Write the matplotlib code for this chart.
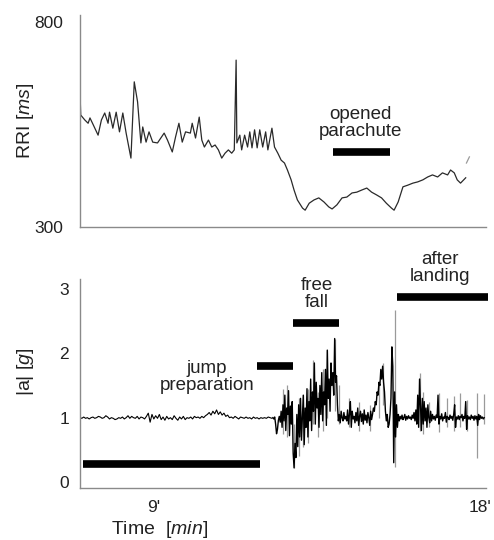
import numpy as np
import matplotlib
matplotlib.use("Agg")
import matplotlib.pyplot as plt
import matplotlib.transforms as mtransforms

plt.rcParams['font.family'] = ['Liberation Sans', 'DejaVu Sans']
plt.rcParams['mathtext.fontset'] = 'custom'
plt.rcParams['mathtext.rm'] = 'Liberation Sans'
plt.rcParams['mathtext.it'] = 'Liberation Sans:italic'

# ---------------- data ----------------
rri_t = [7.00, 7.02, 7.13, 7.22, 7.27, 7.36, 7.49, 7.58, 7.67, 7.76, 7.80, 7.89, 7.98, 8.07, 8.16, 8.25,
         8.38, 8.47, 8.56, 8.65, 8.70, 8.79, 8.87, 8.97, 9.10, 9.28, 9.37, 9.50, 9.59, 9.68, 9.77, 9.86,
         9.99, 10.04, 10.13, 10.23, 10.30, 10.37, 10.48, 10.57, 10.66, 10.75, 10.84, 10.93, 11.02, 11.11,
         11.18, 11.23, 11.25, 11.33, 11.38, 11.46, 11.54, 11.60, 11.66, 11.73, 11.80, 11.87, 11.95, 12.03,
         12.09, 12.20, 12.27, 12.36, 12.45, 12.54, 12.62, 12.72, 12.80, 12.89, 13.03, 13.10, 13.21, 13.34,
         13.47, 13.61, 13.74, 13.83, 13.96, 14.10, 14.23, 14.37, 14.50, 14.63, 14.77, 14.90, 15.04, 15.17,
         15.30, 15.44, 15.51, 15.62, 15.75, 15.88, 16.02, 16.15, 16.29, 16.42, 16.55, 16.69, 16.82, 16.96,
         17.04, 17.14, 17.22, 17.31, 17.45]
rri_v = [627, 573, 561, 553, 566, 549, 524, 561, 578, 553, 580, 541, 580, 532, 578, 529,
         468, 654, 605, 505, 544, 507, 532, 507, 505, 529, 512, 483, 520, 553, 507, 532,
         529, 553, 517, 568, 512, 495, 512, 495, 500, 488, 468, 480, 488, 480,
         488, 707, 505, 524, 488, 524, 495, 532, 493, 537, 493, 537, 495, 532,
         488, 541, 495, 480, 463, 456, 439, 415, 390, 366, 346, 341, 358, 366,
         371, 361, 349, 344, 354, 371, 373, 383, 385, 390, 395, 385, 378, 371,
         358, 346, 341, 361, 398, 402, 407, 410, 415, 422, 427, 422, 432, 427,
         439, 432, 415, 407, 420]
rri_tail_t = [17.47, 17.55]
rri_tail_v = [456, 471]

# |a| sampled signal: calm part (step 0.05 min) and active part (step 0.025 min)
acc_calm_start, acc_calm_step = 7.00, 0.05
acc_calm = [1.00, 0.99, 1.01, 0.99, 1.00, 0.98, 1.00, 1.01, 0.99, 1.00,
            1.02, 1.01, 0.99, 1.00, 1.03, 1.01, 0.98, 1.00, 0.99, 0.97,
            0.98, 1.00, 0.99, 1.01, 0.98, 1.00, 1.03, 0.99, 1.02, 1.00,
            0.99, 1.02, 0.98, 1.01, 1.00, 0.98, 1.02, 1.07, 0.93, 1.05,
            0.98, 1.03, 0.99, 1.05, 0.97, 1.01, 0.96, 1.02, 0.98, 1.00,
            0.97, 1.03, 0.99, 0.96, 1.01, 0.98, 1.02, 0.97, 1.00, 0.99,
            1.01, 0.98, 1.02, 1.00, 1.01, 0.99, 1.02, 1.00, 1.03, 1.05,
            1.08, 1.04, 1.10, 1.06, 1.12, 1.05, 1.09, 1.04, 1.07, 1.02,
            1.04, 1.00, 1.01, 0.99, 1.02, 1.00, 0.98, 1.01, 1.00, 0.99,
            1.01, 0.99, 1.00, 0.98, 1.01, 0.99, 1.00, 0.98, 1.00, 0.99,
            1.00, 0.99, 1.01, 1.00, 0.99]
acc_act_start, acc_act_step = 12.225, 0.025
acc_act = [1.00, 0.98, 1.01, 0.90, 0.75, 0.82, 0.96, 1.02, 0.93, 1.10,
           0.85, 1.20, 0.95, 1.35, 0.80, 1.15, 1.05, 1.42, 0.72, 1.18,
           0.90, 1.25, 0.45, 0.22, 0.60, 0.38, 1.05, 0.55, 1.20, 0.70,
           1.30, 0.65, 1.00, 1.35, 0.58, 1.15, 0.85, 1.45, 0.70, 1.25,
           0.95, 1.60, 0.80, 1.40, 1.10, 1.85, 0.90, 1.55, 1.15, 1.30,
           0.85, 1.50, 1.05, 1.70, 0.95, 1.40, 1.20, 1.75, 0.88, 2.05,
           1.30, 1.60, 1.10, 1.85, 1.50, 1.70, 1.35, 2.23, 1.55, 1.65,
           1.20, 0.95, 1.05, 0.92, 1.10, 1.00, 0.95, 1.08, 0.98, 1.02,
           0.95, 1.12, 0.90, 1.05, 1.25, 0.85, 1.10, 0.98, 1.02, 0.92,
           1.08, 0.95, 1.15, 0.88, 1.02, 1.10, 0.94, 1.06, 0.90, 1.12,
           0.96, 1.04, 0.92, 1.08, 1.00, 0.88, 1.10, 0.97, 1.05, 1.15,
           1.10, 1.25, 1.20, 1.40, 1.35, 1.55, 1.50, 1.75, 1.60, 1.80,
           1.55, 1.40, 1.10, 0.95, 1.05, 0.85, 0.90, 1.05, 1.30, 2.10,
           1.80, 0.30, 1.40, 0.70, 1.20, 0.85, 1.05, 0.95, 1.02, 0.98,
           1.04, 0.97, 1.00, 1.05, 0.96, 1.02, 0.98, 1.03, 0.99, 1.01,
           0.97, 1.04, 0.99, 1.08, 0.95, 1.12, 0.90, 1.35, 0.85, 1.60,
           1.20, 0.80, 1.30, 0.90, 1.25, 0.95, 1.15, 0.85, 1.20, 1.00,
           0.92, 1.10, 0.95, 1.05, 0.98, 1.02, 0.96, 1.04, 1.00, 1.35,
           0.90, 1.02, 0.98, 1.06, 0.95, 1.01, 0.99, 1.08, 0.93, 1.02,
           1.00, 0.97, 1.04, 0.99, 1.02, 0.96, 1.05, 1.20, 0.85, 1.01,
           0.98, 1.03, 0.97, 1.02, 1.00, 1.05, 0.95, 1.02, 0.99, 1.25,
           0.82, 1.03, 0.98, 1.01, 0.97, 1.04, 0.99, 1.02, 0.96, 1.03,
           0.98, 1.02, 0.88, 1.05, 0.97, 1.03, 0.99, 1.01, 0.98, 1.00]

# light grey excursions of |a|
spike_t = [12.50, 12.62, 12.80, 12.92, 13.05, 13.18, 13.32, 13.45, 13.58, 13.70, 13.90, 14.02,
           14.30, 14.55, 14.85, 15.10, 15.22, 15.54, 16.20, 16.30, 16.45, 16.73, 16.95, 17.14,
           17.30, 17.49, 17.76, 17.94]
spike_lo = [0.75, 0.70, 0.22, 0.40, 0.55, 0.60, 0.90, 0.70, 0.80, 1.00, 1.10, 0.90,
            0.85, 0.80, 0.80, 1.00, 1.20, 0.24, 0.80, 0.75, 0.85, 0.78, 0.85, 0.80,
            0.85, 0.80, 0.37, 0.90]
spike_hi = [1.45, 1.50, 0.90, 1.30, 1.35, 1.45, 1.90, 1.40, 1.75, 2.05, 2.23, 1.50,
            1.30, 1.25, 1.20, 1.50, 1.85, 2.67, 1.69, 1.40, 1.25, 1.38, 1.30, 1.33,
            1.38, 1.28, 1.38, 1.37]

# phase bars
phase_start = [7.08, 11.80, 12.77, 15.59]
phase_end = [11.88, 12.77, 14.02, 18.06]
phase_level = [0.28, 1.80, 2.47, 2.88]
phase_labels = ["jump\npreparation", "free\nfall", "after\nlanding"]
phase_label_x = [10.44, 13.42, 16.76]
phase_label_y = [1.63, 2.915, 3.33]

chute_start, chute_end, chute_level = 13.86, 15.40, 483
chute_label = "opened\nparachute"
chute_label_x, chute_label_y = 14.59, 554

rri_ticks = [300, 800]
acc_ticks = [0, 1, 2, 3]
time_ticks = [9, 18]
time_ticklabels = ["9'", "18'"]

# ---------------- figure ----------------
W, H = 494, 540
fig = plt.figure(figsize=(W / 100, H / 100), dpi=100)
left = 80 / W
width = 406 / W
ax1 = fig.add_axes([left, (H - 227) / H, width, 212 / H])
ax2 = fig.add_axes([left, (H - 488) / H, width, 209 / H])

spine_col = '#8a8a8a'
txt_col = '#222222'
fs_tick = 12.5
fs_label = 14
fs_note = 13.5

for ax in (ax1, ax2):
    for s in ('top', 'right'):
        ax.spines[s].set_visible(False)
    for s in ('left', 'bottom'):
        ax.spines[s].set_color(spine_col)
        ax.spines[s].set_linewidth(1.0)
    ax.set_xlim(7.0, 18.0)
    ax.tick_params(length=0, labelsize=fs_tick, colors=txt_col)

# top panel
ax1.plot(rri_t, rri_v, color='#2a2a2a', lw=0.9)
ax1.plot(rri_tail_t, rri_tail_v, color='#9a9a9a', lw=0.9)
ax1.set_ylim(300, 817)
ax1.set_yticks(rri_ticks)
ax1.set_xticks([])
ax1.tick_params(axis='y', pad=12)
ax1.set_ylabel('RRI [$\\mathit{ms}$]', fontsize=fs_label, color=txt_col)
ax1.yaxis.set_label_coords(-0.108, 0.5)
ax1.hlines(chute_level, chute_start, chute_end, color='black', lw=5.5)
ax1.text(chute_label_x, chute_label_y, chute_label, ha='center', va='center',
         fontsize=fs_note, color=txt_col, linespacing=1.0)

# bottom panel
calm_t = acc_calm_start + acc_calm_step * np.arange(len(acc_calm))
act_t = acc_act_start + acc_act_step * np.arange(len(acc_act))
ax2.vlines(spike_t, spike_lo, spike_hi, color='#9a9a9a', lw=0.9)
ax2.plot(calm_t, acc_calm, color='black', lw=0.8)
ax2.plot(act_t, acc_act, color='black', lw=1.0)
ax2.set_ylim(-0.093, 3.155)
ax2.set_yticks(acc_ticks)
ax2.tick_params(axis='y', pad=8)
ax2.set_xticks(time_ticks)
ax2.set_xticklabels(time_ticklabels)
ax2.tick_params(axis='x', pad=9)
# keep the right-most tick label inside the canvas
last = ax2.get_xticklabels()[-1]
last.set_transform(last.get_transform() + mtransforms.ScaledTranslation(-6 / 100, 0, fig.dpi_scale_trans))
ax2.set_ylabel('|a| [$\\mathit{g}$]', fontsize=fs_label, color=txt_col)
ax2.yaxis.set_label_coords(-0.108, 0.555)
ax2.set_xlabel('Time  [$\\mathit{min}$]', fontsize=fs_label, color=txt_col)
ax2.xaxis.set_label_coords(0.196, -0.15)

ax2.hlines(phase_level, phase_start, phase_end, color='black', lw=5.5, clip_on=False)
for lbl, x, y in zip(phase_labels, phase_label_x, phase_label_y):
    ax2.text(x, y, lbl, ha='center', va='center', fontsize=fs_note, color=txt_col,
             linespacing=1.0, clip_on=False)

fig.savefig('out.png', dpi=100)
